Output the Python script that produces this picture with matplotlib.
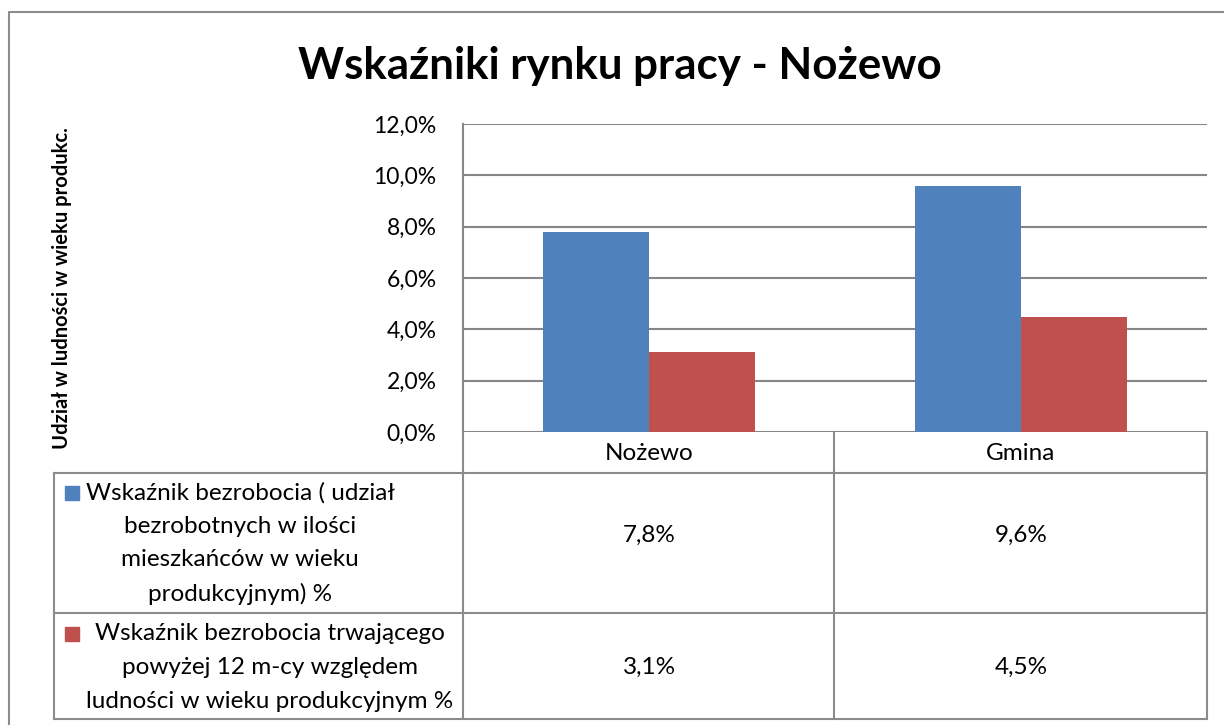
import matplotlib
matplotlib.use("Agg")
import matplotlib.pyplot as plt
import matplotlib.transforms as mtransforms
from matplotlib.patches import Rectangle

# dane
kategorie = ["Nożewo", "Gmina"]
bezrobocie = [7.8, 9.6]
bezrobocie_dlugie = [3.1, 4.5]
nazwy_serii = [
    "Wskaźnik bezrobocia ( udział\nbezrobotnych w ilości\nmieszkańców w wieku\nprodukcyjnym) %",
    "Wskaźnik bezrobocia trwającego\npowyżej 12 m-cy względem\nludności w wieku produkcyjnym %",
]
kolory = ["#4F81BD", "#C0504D"]
y_ticks = [0, 2, 4, 6, 8, 10, 12]

plt.rcParams['font.family'] = ['Lato', 'DejaVu Sans']
W, H = 1224, 725
szary = "#8C8C8C"
fs = 17.5


def fmt(v):
    return f"{v:.1f}%".replace(".", ",")


fig = plt.figure(figsize=(W / 100, H / 100), dpi=100)

# tlo w pikselach (ramka + tabela)
bg = fig.add_axes([0, 0, 1, 1])
bg.set_xlim(0, W)
bg.set_ylim(H, 0)
bg.axis("off")

# wykres slupkowy
ax = fig.add_axes([463 / W, 1 - 432 / H, 744 / W, 308 / H])
ax.patch.set_alpha(0)
x = list(range(len(kategorie)))
sz = 0.285
ax.bar([i - sz / 2 for i in x], bezrobocie, width=sz, color=kolory[0], zorder=3)
ax.bar([i + sz / 2 for i in x], bezrobocie_dlugie, width=sz, color=kolory[1], zorder=3)
ax.set_xlim(-0.5, len(kategorie) - 0.5)
ax.set_ylim(0, 12)
ax.set_yticks(y_ticks)
ax.set_yticklabels([fmt(t) for t in y_ticks], fontsize=16.5)
ax.tick_params(axis="y", length=0, pad=19)
ax.set_xticks([])
ax.grid(axis="y", color="#868686", lw=1.5, zorder=0)
for s in ["top", "right", "bottom"]:
    ax.spines[s].set_visible(False)
ax.spines["left"].set_color("#868686")
ax.spines["left"].set_linewidth(1.5)

fig.text(620 / W, 1 - 66 / H, "Wskaźniki rynku pracy - Nożewo", ha="center", va="center",
         fontsize=31.6, fontweight="bold")
fig.text(62 / W, 1 - 288 / H, "Udział w ludności w wieku produkc.", rotation=90,
         ha="center", va="center", fontsize=14.5, fontweight="bold")

# ramka zewnetrzna
bg.plot([9, 9, W + 5], [H + 5, 12, 12], color=szary, lw=1.5)

# tabela danych
lewo, srodek, prawo = 54, 463, 1207
wiersze = [432, 473, 613, 719]
kol_x = [srodek, 834, prawo]
for y in wiersze[1:]:
    bg.plot([lewo, prawo], [y, y], color=szary, lw=1.5)
bg.plot([lewo, lewo], [wiersze[1], wiersze[3]], color=szary, lw=1.5)
for xx in kol_x:
    bg.plot([xx, xx], [wiersze[0], wiersze[3]], color=szary, lw=1.5)

tr = mtransforms.blended_transform_factory(ax.transData, bg.transData)
for i, k in enumerate(kategorie):
    ax.text(i, 453, k, transform=tr, ha="center", va="center", fontsize=fs)
    ax.text(i, 535, fmt(bezrobocie[i]), transform=tr, ha="center", va="center", fontsize=fs)
    ax.text(i, 667, fmt(bezrobocie_dlugie[i]), transform=tr, ha="center", va="center", fontsize=fs)

# opisy serii w tabeli
ustaw = [(240, 493, 65), (270, 634, 65)]
for (cx, y0, kx), nazwa, kol in zip(ustaw, nazwy_serii, kolory):
    linie = nazwa.split("\n")
    for j, l in enumerate(linie):
        bg.text(cx, y0 + j * 33.5, l, ha="center", va="center", fontsize=fs)
    bg.add_patch(Rectangle((kx, y0 - 7), 14, 14, color=kol))

fig.savefig("out.png", dpi=100)
